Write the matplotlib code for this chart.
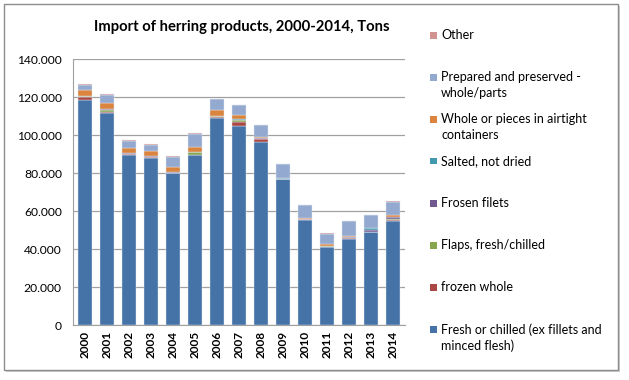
import numpy as np
import matplotlib
matplotlib.use("Agg")
import matplotlib.pyplot as plt
from matplotlib.patches import Rectangle, FancyBboxPatch
from matplotlib.ticker import FuncFormatter

plt.rcParams['font.family'] = ['Lato', 'DejaVu Sans']

years = [str(y) for y in range(2000, 2015)]

# tons per category, stacking order bottom -> top
fresh     = [118400, 111800, 89400, 88000, 79800, 89400, 108900, 104500, 96500, 76700, 55400, 40900, 45300, 48800, 54700]
frozen    = [1700, 500, 500, 300, 300, 300, 700, 2600, 1500, 200, 200, 200, 300, 200, 800]
flaps     = [300, 1000, 100, 100, 100, 1200, 200, 600, 100, 100, 100, 300, 100, 100, 100]
filets    = [200, 500, 400, 400, 300, 200, 200, 200, 200, 100, 100, 100, 500, 1000, 1000]
salted    = [100, 100, 100, 100, 100, 100, 100, 400, 100, 100, 100, 300, 100, 800, 200]
airtight  = [2900, 3000, 2600, 2800, 2400, 2300, 2800, 2100, 700, 400, 500, 700, 600, 200, 900]
prepared  = [2600, 4000, 3800, 3300, 5600, 7000, 5900, 5200, 6100, 7200, 6700, 5500, 7800, 6700, 7300]
other     = [400, 500, 400, 300, 400, 400, 300, 300, 200, 200, 300, 300, 300, 200, 300]

series = [fresh, frozen, flaps, filets, salted, airtight, prepared, other]
labels = ["Fresh or chilled (ex fillets and\nminced flesh)", "frozen whole", "Flaps, fresh/chilled",
          "Frosen filets", "Salted, not dried", "Whole or pieces in airtight\ncontainers",
          "Prepared and preserved -\nwhole/parts", "Other"]
colors = ['#4572A7', '#AA4643', '#89A54E', '#71588F', '#4198AF', '#DB843D', '#93A9CF', '#D19392']

W, H = 629, 380
fig = plt.figure(figsize=(W / 100, H / 100), dpi=100)

# outer frame with soft shadow
fig.patches.append(FancyBboxPatch((6 / W, 8 / H), 614 / W, 366 / H, boxstyle="square,pad=0",
                                  transform=fig.transFigure, fc='#d0d0d0', ec='none', zorder=-2))
fig.patches.append(FancyBboxPatch((4 / W, 10 / H), 614 / W, 366 / H, boxstyle="square,pad=0",
                                  transform=fig.transFigure, fc='white', ec='#8c8c8c', lw=1, zorder=-1))

ax = fig.add_axes([73 / W, 55 / H, 332 / W, 266 / H])
x = np.arange(len(years))
bottom = np.zeros(len(years))
for vals, c in zip(series, colors):
    ax.bar(x, vals, 0.65, bottom=bottom, color=c, edgecolor='#e4e9f2', linewidth=0.3, zorder=3)
    bottom += np.array(vals)

ax.set_ylim(0, 140000)
ax.set_xlim(-0.55, len(years) - 0.45)
ax.set_yticks(np.arange(0, 140001, 20000))
ax.yaxis.set_major_formatter(FuncFormatter(lambda v, p: f"{int(v):,}".replace(",", ".")))
ax.grid(axis='y', color='#a0a0a0', linewidth=0.9, zorder=0)
ax.set_xticks(x)
ax.set_xticklabels(years, rotation=90, fontweight='bold', fontsize=8.5)
ax.tick_params(axis='y', labelsize=8.7, length=0, pad=8)
ax.tick_params(axis='x', length=0, pad=4)
for s in ['top', 'right']:
    ax.spines[s].set_visible(False)
ax.spines['left'].set_color('#a0a0a0')
ax.spines['bottom'].set_color('#a0a0a0')
ax.patch.set_alpha(0)

fig.text(242 / W, 1 - 27 / H, "Import of herring products, 2000-2014, Tons",
         ha='center', va='center', fontsize=10.6, fontweight='bold')

# legend, top entry is the last series
for i, (lab, c) in enumerate(zip(labels[::-1], colors[::-1])):
    yc = 35 + 42 * i
    fig.patches.append(Rectangle((430 / W, 1 - (yc + 3.5) / H), 7 / W, 7 / H,
                                 transform=fig.transFigure, fc=c, ec='none'))
    fig.text(441 / W, 1 - (yc - 6) / H, lab, ha='left', va='top', fontsize=9, linespacing=1.4)

fig.savefig("out.png", dpi=100)
